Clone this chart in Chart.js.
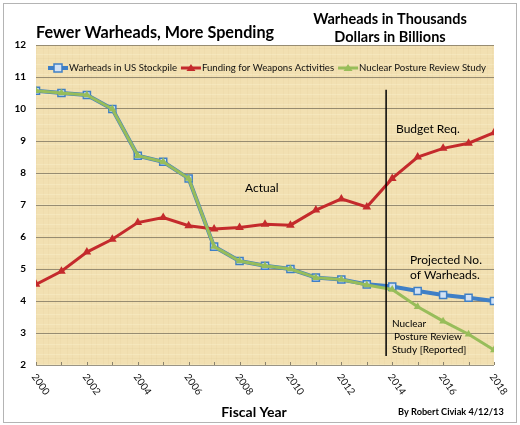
<!DOCTYPE html>
<html>
<head>
<meta charset="utf-8">
<script src="https://cdn.jsdelivr.net/npm/chart.js@4.4.0/dist/chart.umd.min.js"></script>
<style>
  html, body { margin: 0; padding: 0; background: #fff; }
  #wrap { width: 520px; height: 425px; }
</style>
</head>
<body>
<div id="wrap"><canvas id="chart" width="520" height="425"></canvas></div>
<script>
// fiscal years and series (warheads in thousands, dollars in billions)
const years = [2000, 2001, 2002, 2003, 2004, 2005, 2006, 2007, 2008, 2009,
               2010, 2011, 2012, 2013, 2014, 2015, 2016, 2017, 2018];
const stockpile = [10.57, 10.5, 10.44, 10.0, 8.54, 8.35, 7.83, 5.7, 5.25, 5.1,
                   5.0, 4.73, 4.67, 4.52, 4.45, 4.31, 4.19, 4.1, 4.0];
const funding = [4.52, 4.93, 5.53, 5.93, 6.45, 6.61, 6.35, 6.25, 6.3, 6.4,
                 6.37, 6.84, 7.19, 6.94, 7.83, 8.5, 8.77, 8.93, 9.26];
const postureReview = [10.57, 10.5, 10.44, 10.0, 8.54, 8.35, 7.83, 5.7, 5.25, 5.1,
                       5.0, 4.73, 4.67, 4.5, 4.36, 3.82, 3.37, 2.96, 2.47];
const xTickLabels = ['2000', '2002', '2004', '2006', '2008', '2010', '2012', '2014', '2016', '2018'];
const seriesNames = ['Warheads in US Stockpile', 'Funding for Weapons Activities', 'Nuclear Posture Review Study'];

// split between actual and budget request years
const splitYear = 2013.76;
const splitTop = 10.6;
const splitBottom = 2.28;

const FONT = 'Lato, "Open Sans", sans-serif';
const BLUE = '#3f7fc6';
const RED = '#c42a2c';
const GREEN = '#98bd5a';

function pts(vals) {
  return vals.map((v, i) => ({ x: years[i], y: v }));
}

function parchment(ctx) {
  const c = document.createElement('canvas');
  c.width = 12; c.height = 10;
  const p = c.getContext('2d');
  p.fillStyle = '#f2e0b2';
  p.fillRect(0, 0, 12, 10);
  p.fillStyle = 'rgba(205,175,115,0.08)';
  p.fillRect(0, 0, 1, 10);
  p.fillRect(7, 0, 1, 10);
  p.fillStyle = 'rgba(255,250,225,0.25)';
  p.fillRect(0, 4, 12, 1);
  p.fillStyle = 'rgba(205,175,115,0.07)';
  p.fillRect(0, 8, 12, 1);
  return ctx.createPattern(c, 'repeat');
}

function drawMarker(ctx, type, x, y, color) {
  ctx.save();
  if (type === 'rect') {
    ctx.fillStyle = '#d3e2f4';
    ctx.strokeStyle = BLUE;
    ctx.lineWidth = 1.5;
    ctx.fillRect(x - 4, y - 4, 8, 8);
    ctx.strokeRect(x - 4, y - 4, 8, 8);
  } else {
    ctx.fillStyle = color;
    ctx.beginPath();
    ctx.moveTo(x, y - 4);
    ctx.lineTo(x + 4.5, y + 3);
    ctx.lineTo(x - 4.5, y + 3);
    ctx.closePath();
    ctx.fill();
  }
  ctx.restore();
}

const decor = {
  id: 'decor',
  beforeDraw(chart) {
    const { ctx, chartArea: a } = chart;
    ctx.save();
    ctx.fillStyle = '#fff';
    ctx.fillRect(0, 0, chart.width, chart.height);
    ctx.strokeStyle = '#b4b4b4';
    ctx.lineWidth = 1;
    ctx.strokeRect(3.5, 3.5, chart.width - 7, chart.height - 6);
    ctx.fillStyle = parchment(ctx);
    ctx.fillRect(a.left, a.top, a.right - a.left, a.bottom - a.top);
    ctx.restore();
  },
  afterDraw(chart) {
    const { ctx, chartArea: a } = chart;
    const xs = chart.scales.x, ys = chart.scales.y;
    ctx.save();

    // small tick marks every year along the bottom
    ctx.strokeStyle = '#8a826c';
    ctx.lineWidth = 1;
    years.forEach(yr => {
      const px = Math.round(xs.getPixelForValue(yr)) + 0.5;
      ctx.beginPath();
      ctx.moveTo(px, a.bottom);
      ctx.lineTo(px, a.bottom - 3);
      ctx.stroke();
    });

    // rotated year labels
    ctx.fillStyle = '#111';
    ctx.font = '10px ' + FONT;
    ctx.textAlign = 'left';
    ctx.textBaseline = 'middle';
    xTickLabels.forEach(lbl => {
      const px = xs.getPixelForValue(Number(lbl));
      ctx.save();
      ctx.translate(px - 2, a.bottom + 10);
      ctx.rotate(55 * Math.PI / 180);
      ctx.fillText(lbl, 0, 0);
      ctx.restore();
    });

    // actual / budget split line
    const sx = xs.getPixelForValue(splitYear);
    ctx.strokeStyle = '#000';
    ctx.lineWidth = 1.5;
    ctx.beginPath();
    ctx.moveTo(sx, ys.getPixelForValue(splitTop));
    ctx.lineTo(sx, ys.getPixelForValue(splitBottom));
    ctx.stroke();

    // legend, laid out left to right inside the plot
    const ly = 68;
    const items = [
      { color: BLUE, mk: 'rect', width: 4 },
      { color: RED, mk: 'tri', width: 3 },
      { color: GREEN, mk: 'tri', width: 3 }
    ];
    ctx.font = '9.6px ' + FONT;
    ctx.textBaseline = 'middle';
    let lx = 48;
    items.forEach((it, i) => {
      ctx.strokeStyle = it.color;
      ctx.lineWidth = it.width;
      ctx.beginPath();
      ctx.moveTo(lx, ly);
      ctx.lineTo(lx + 20, ly);
      ctx.stroke();
      drawMarker(ctx, it.mk, lx + 10, ly, it.color);
      ctx.fillStyle = '#111';
      ctx.fillText(seriesNames[i], lx + 21, ly);
      lx += 21 + ctx.measureText(seriesNames[i]).width + 4;
    });

    // titles and notes
    ctx.textBaseline = 'alphabetic';
    ctx.fillStyle = '#000';
    ctx.font = 'bold 16.2px ' + FONT;
    ctx.textAlign = 'left';
    ctx.fillText('Fewer Warheads, More Spending', 36, 38);
    ctx.textAlign = 'center';
    ctx.font = 'bold 14.5px ' + FONT;
    ctx.fillText('Warheads in Thousands', 390, 24);
    ctx.fillText('Dollars in Billions', 390, 42);
    ctx.font = 'bold 14px ' + FONT;
    ctx.fillText('Fiscal Year', 254, 417);
    ctx.textAlign = 'left';
    ctx.font = 'bold 9.2px ' + FONT;
    ctx.fillText('By Robert Civiak 4/12/13', 398, 415);

    ctx.font = '12px ' + FONT;
    ctx.fillText('Actual', 245, 192);
    ctx.fillText('Budget Req.', 396, 133);
    ctx.fillText('Projected No.', 410, 264);
    ctx.fillText('of Warheads.', 410, 279);
    ctx.font = '10px ' + FONT;
    ctx.fillText('Nuclear', 392, 327);
    ctx.fillText('Posture Review', 394, 340);
    ctx.fillText('Study [Reported]', 392, 353);
    ctx.restore();
  }
};

new Chart(document.getElementById('chart'), {
  type: 'line',
  data: {
    datasets: [
      {
        label: seriesNames[2],
        data: pts(postureReview),
        borderColor: GREEN,
        backgroundColor: GREEN,
        borderWidth: 3,
        pointStyle: 'triangle',
        pointRadius: 4.5,
        pointBorderWidth: 0,
        tension: 0,
        order: 0
      },
      {
        label: seriesNames[1],
        data: pts(funding),
        borderColor: RED,
        backgroundColor: RED,
        borderWidth: 3,
        pointStyle: 'triangle',
        pointRadius: 5,
        pointBorderWidth: 0,
        tension: 0,
        order: 1
      },
      {
        label: seriesNames[0],
        data: pts(stockpile),
        borderColor: BLUE,
        backgroundColor: '#d3e2f4',
        borderWidth: 4,
        pointStyle: 'rect',
        pointRadius: 5,
        pointBorderColor: BLUE,
        pointBorderWidth: 1.5,
        tension: 0,
        order: 2
      }
    ]
  },
  options: {
    responsive: false,
    animation: false,
    devicePixelRatio: 1,
    layout: { padding: { top: 45, right: 26, left: 0, bottom: 0 } },
    plugins: {
      legend: { display: false },
      title: { display: false },
      tooltip: { enabled: false }
    },
    scales: {
      x: {
        type: 'linear',
        min: 2000,
        max: 2018,
        ticks: { display: false, stepSize: 1 },
        grid: { display: false },
        border: { display: false },
        afterFit(scale) { scale.height = 60; }
      },
      y: {
        min: 2,
        max: 12,
        ticks: {
          stepSize: 1,
          color: '#000',
          padding: 10,
          font: { family: FONT, size: 10, weight: 'bold' }
        },
        grid: { color: 'rgba(120,112,92,0.75)', lineWidth: 1, drawTicks: false },
        border: { display: false },
        afterFit(scale) { scale.width = 36; }
      }
    }
  },
  plugins: [decor]
});
</script>
</body>
</html>
